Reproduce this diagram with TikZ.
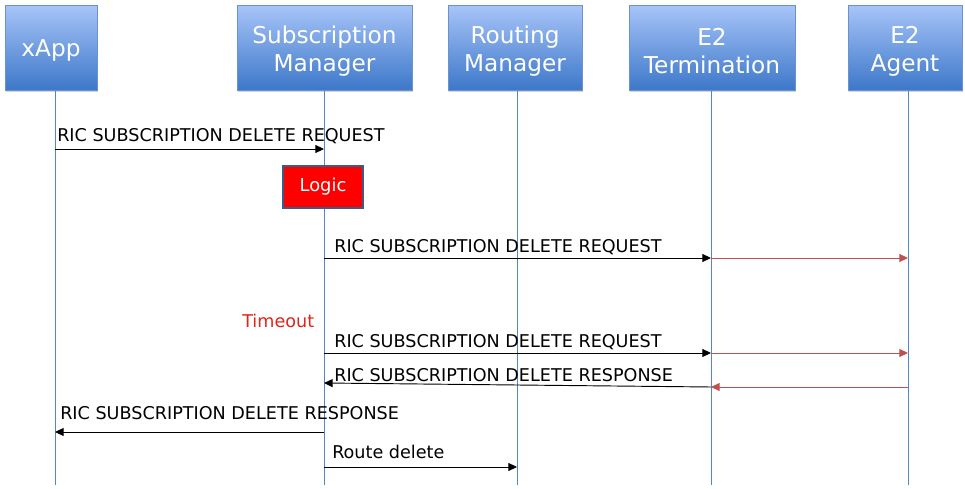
\documentclass[tikz,border=0pt]{standalone}
\usepackage{fontspec}
\setmainfont{DejaVu Sans}
\usetikzlibrary{arrows.meta,positioning,shadows}
\definecolor{lifeblue}{HTML}{5585C4}
\definecolor{boxtop}{HTML}{A7C4F8}
\definecolor{boxbot}{HTML}{3C77C9}
\definecolor{boxedge}{HTML}{6A92CE}
\definecolor{relay}{HTML}{C0504D}
\definecolor{logicedge}{HTML}{385D8A}
\definecolor{tmored}{HTML}{E2231A}

\tikzset{
  actor/.style={rectangle, draw=boxedge, top color=boxtop, bottom color=boxbot,
    minimum height=64pt, inner sep=0pt,
    drop shadow={shadow xshift=0.8pt, shadow yshift=-1.2pt, opacity=0.35}},
  head/.style={text=white, align=center, yshift=-2.2pt,
    font=\fontsize{17.4}{21}\selectfont},
  life/.style={draw=lifeblue, line width=0.7pt},
  msg/.style={-{Triangle[length=6.5pt,width=6pt]}, line width=0.7pt},
  fwd/.style={msg, draw=relay, fill=relay, line width=0.7pt},
  lbl/.style={anchor=base west, inner sep=0pt, font=\fontsize{13.2}{15.8}\selectfont},
  logic/.style={rectangle, draw=logicedge, line width=1.5pt, fill=red, text=white,
    minimum width=60pt, minimum height=31.5pt, font=\fontsize{13.4}{16}\selectfont}
}

\begin{document}
\begin{tikzpicture}[x=0.75pt, y=-0.75pt]
\useasboundingbox (0,0) rectangle (965,489);

\node[actor, minimum width=69pt, label={[head]center:xApp}] (xapp) at (51,48) {};
\node[actor, minimum width=131pt, label={[head]center:{Subscription\\Manager}}] (subm) at (324.5,48) {};
\node[actor, minimum width=100.5pt, label={[head]center:{Routing\\Manager}}] (rtm) at (515,48) {};
\node[actor, minimum width=124.5pt, label={[head]center:{E2\\Termination}}] (e2t) at (712,48) {};
\node[actor, minimum width=85.5pt, label={[head]center:{E2\\Agent}}] (e2a) at (905,48) {};

% lifelines
\foreach \n/\x in {xa/55, sm/324, rm/517, et/711, ag/908} {
  \coordinate (\n) at (\x,91);
  \coordinate (\n end) at (\x,485);
  \draw[life] (\n) -- (\n end);
}

% message rows
\coordinate (r1) at (0,149);
\coordinate (r3) at (0,258);
\coordinate (r5) at (0,353);
\coordinate (r6) at (0,387);
\coordinate (r6b) at (0,383);
\coordinate (r7) at (0,432);
\coordinate (r8) at (0,467);

\draw[msg] (xa |- r1) -- (sm |- r1);
\node[lbl] (m1) at (57,141) {RIC SUBSCRIPTION DELETE REQUEST};

\node[logic] (logic) at (323,186.5) {Logic};

\draw[msg] (sm |- r3) -- (et |- r3);
\draw[fwd] (et |- r3) -- (ag |- r3);
\node[lbl] (m3) at (334,252) {RIC SUBSCRIPTION DELETE REQUEST};

\node[lbl, text=tmored] (tmo) at (242,327) {Timeout};

\draw[msg] (sm |- r5) -- (et |- r5);
\draw[fwd] (et |- r5) -- (ag |- r5);
\node[lbl] (m5) at (334,347) {RIC SUBSCRIPTION DELETE REQUEST};

\draw[fwd] (ag |- r6) -- (et |- r6);
\draw[msg] (et |- r6) -- (sm |- r6b);
\node[lbl] (m6) at (334,381) {RIC SUBSCRIPTION DELETE RESPONSE};

\draw[msg] (sm |- r7) -- (xa |- r7);
\node[lbl] (m7) at (60,419) {RIC SUBSCRIPTION DELETE RESPONSE};

\draw[msg] (sm |- r8) -- (rm |- r8);
\node[lbl] (m8) at (332,458) {Route delete};
\end{tikzpicture}
\end{document}
